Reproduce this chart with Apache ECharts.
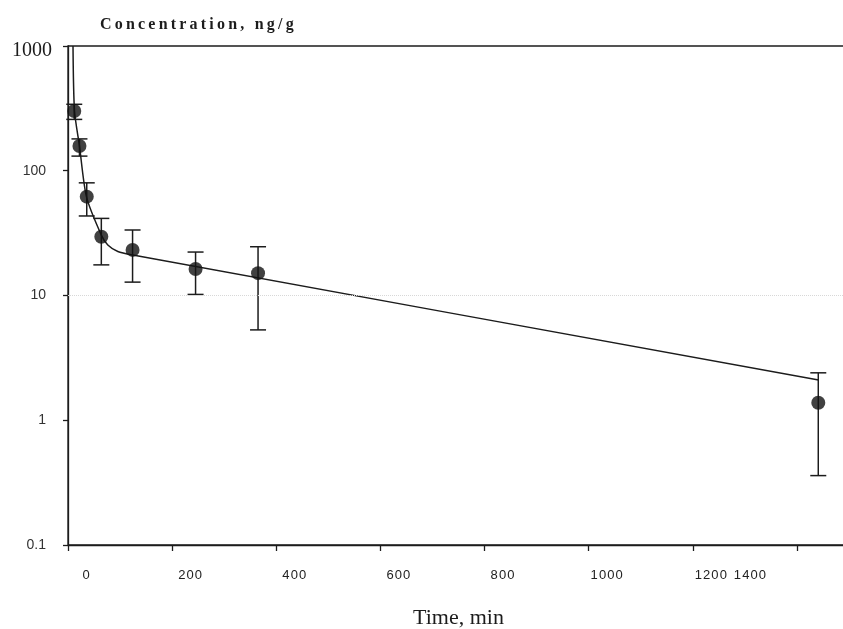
<!DOCTYPE html>
<html lang="en">
<head>
    <meta charset="UTF-8">
    <title>Concentration vs time</title>
    <script src="https://cdn.jsdelivr.net/npm/echarts@6/dist/echarts.min.js"></script>
</head>
<body style="margin:0;background:#fff;">
    <div id="main" style="width:843px;height:629px;"></div>
    <script>
    // measured points (time in min, concentration ng/g)
    var times = [12, 22, 36, 64, 124, 245, 365, 1441];
    var means = [301, 158, 62, 29.6, 23.2, 16.3, 15.1, 1.38];
    var upper = [341, 180, 80, 41.5, 33.5, 22.3, 24.6, 2.40];
    var lower = [258, 131, 43.4, 17.6, 12.8, 10.2, 5.3, 0.36];

    // fitted curve
    var fitTimes = [9.6, 12.5, 22, 35.5, 64, 76.5, 95.7, 124.5, 1441.6];
    var fitValues = [1000, 301, 158, 61.7, 30.5, 25.4, 22.5, 21.1, 2.10];

    var xTickLabels = {0: '0', 200: '200', 400: '400', 600: '600', 800: '800', 1000: '1000', 1200: '1200', 1400: '1400'};
    var yTickLabels = {0.1: '0.1', 1: '1', 10: '10', 100: '100', 1000: '1000'};

    var ink = '#1c1c1c';
    var myChart = echarts.init(document.getElementById('main'));

    // spread the letters a little, like the scanned figure
    function spaced(s, sp) {
        return s.split('').join(sp);
    }

    var option = {
        backgroundColor: '#fff',
        animation: false,
        title: {
            text: spaced('Concentration, ng/g', '\u2009'),
            left: 95,
            top: 12,
            textStyle: {
                fontFamily: 'Liberation Serif',
                fontWeight: 'bold',
                fontSize: 16,
                color: ink
            }
        },
        grid: {
            left: 68,
            top: 46,
            width: 781,
            height: 499,
            outerBoundsMode: 'none',
            containLabel: false,
            show: true,
            borderColor: ink,
            borderWidth: 1.3
        },
        xAxis: {
            type: 'value',
            min: 0,
            max: 1500,
            interval: 200,
            name: 'Time, min',
            nameLocation: 'middle',
            nameGap: 62,
            nameTextStyle: {
                fontFamily: 'Liberation Serif',
                fontSize: 22,
                color: ink
            },
            axisLine: { lineStyle: { color: ink, width: 1.3 } },
            axisTick: { length: 6, lineStyle: { color: ink, width: 1.3 } },
            splitLine: { show: false },
            axisLabel: {
                margin: 24,
                fontFamily: 'Liberation Sans',
                fontSize: 13,
                color: '#222',
                formatter: function (v) {
                    var t = xTickLabels[v];
                    if (t === undefined) return '';
                    t = spaced(t, '\u200A');
                    return v === 1400 ? '{l|' + t + '}' : '{n|' + t + '}';
                },
                rich: {
                    n: { fontFamily: 'Liberation Sans', fontSize: 13, color: '#222', padding: [0, 0, 0, 36] },
                    l: { fontFamily: 'Liberation Sans', fontSize: 13, color: '#222', padding: [0, 94, 0, 0] }
                }
            }
        },
        yAxis: {
            type: 'log',
            logBase: 10,
            min: 0.1,
            max: 1000,
            axisLine: { show: true, lineStyle: { color: ink, width: 1.3 } },
            axisTick: { show: true, length: 5, lineStyle: { color: ink, width: 1.3 } },
            splitLine: { show: false },
            axisLabel: {
                margin: 16,
                formatter: function (v) {
                    var key = Math.round(v * 10) / 10;
                    var t = yTickLabels[key];
                    if (t === undefined) return '';
                    return key === 1000 ? '{a|' + t + '}' : '{b|' + t + '}';
                },
                rich: {
                    a: { fontFamily: 'Liberation Serif', fontSize: 20, color: ink, padding: [10, 0, 0, 0] },
                    b: { fontFamily: 'Liberation Sans', fontSize: 14, color: '#333', padding: [0, 6, 0, 0] }
                }
            }
        },
        series: [
            {
                name: 'fit',
                type: 'line',
                data: fitTimes.map(function (t, i) { return [t, fitValues[i]]; }),
                showSymbol: false,
                smooth: 0.25,
                clip: true,
                lineStyle: { color: ink, width: 1.5 },
                markLine: {
                    silent: true,
                    symbol: 'none',
                    label: { show: false },
                    lineStyle: { color: '#d8d8d8', type: 'dotted', width: 1 },
                    data: [{ yAxis: 10 }]
                },
                z: 2
            },
            {
                name: 'error',
                type: 'custom',
                data: times.map(function (t, i) { return [t, lower[i], upper[i]]; }),
                renderItem: function (params, api) {
                    var lo = api.coord([api.value(0), api.value(1)]);
                    var hi = api.coord([api.value(0), api.value(2)]);
                    var w = 8;
                    var style = { stroke: ink, lineWidth: 1.5 };
                    return {
                        type: 'group',
                        children: [
                            { type: 'line', shape: { x1: lo[0], y1: lo[1], x2: hi[0], y2: hi[1] }, style: style },
                            { type: 'line', shape: { x1: hi[0] - w, y1: hi[1], x2: hi[0] + w, y2: hi[1] }, style: style },
                            { type: 'line', shape: { x1: lo[0] - w, y1: lo[1], x2: lo[0] + w, y2: lo[1] }, style: style }
                        ]
                    };
                },
                z: 3
            },
            {
                name: 'mean',
                type: 'scatter',
                data: times.map(function (t, i) { return [t, means[i]]; }),
                symbol: 'circle',
                symbolSize: 14,
                itemStyle: { color: '#111' },
                z: 4
            }
        ]
    };

    myChart.setOption(option);
    </script>
</body>
</html>
